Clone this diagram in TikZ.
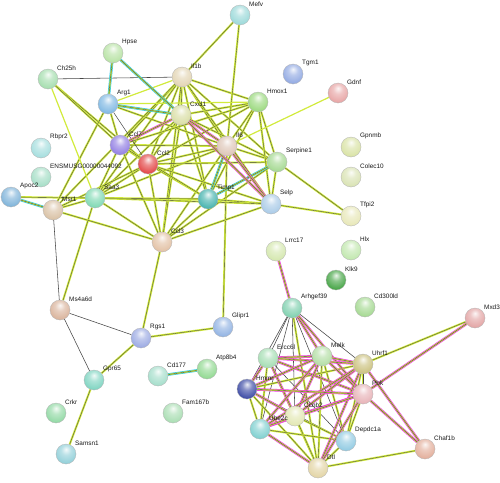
\documentclass[tikz,border=0pt]{standalone}
\usepackage{fontspec}
\setmainfont{Liberation Sans}
\pgfdeclarelayer{bg}
\pgfsetlayers{bg,main}
\definecolor{tmc}{RGB}{210,235,60}
\definecolor{ce}{RGB}{70,70,70}
\definecolor{dbc}{RGB}{40,200,240}
\definecolor{exc}{RGB}{240,50,240}
\definecolor{gb}{RGB}{128,128,128}
\pgfdeclareradialshading[gb]{sball}{\pgfqpoint{0bp}{12bp}}{color(0bp)=(gb!10!white); color(12bp)=(gb!60!white); color(30bp)=(gb!95!white); color(45bp)=(gb!85!black); color(62bp)=(gb!65!black)}
\definecolor{cMefv}{RGB}{150,215,215}
\definecolor{cHpse}{RGB}{180,225,160}
\definecolor{cChh}{RGB}{160,220,170}
\definecolor{cIlb}{RGB}{225,210,175}
\definecolor{cArg}{RGB}{120,180,225}
\definecolor{cCxcl}{RGB}{215,220,160}
\definecolor{cRbpr}{RGB}{160,220,220}
\definecolor{cCcls}{RGB}{140,120,225}
\definecolor{cIls}{RGB}{220,195,180}
\definecolor{cCclt}{RGB}{225,60,60}
\definecolor{cTgm}{RGB}{140,165,225}
\definecolor{cGdnf}{RGB}{230,160,160}
\definecolor{cHmox}{RGB}{150,215,120}
\definecolor{cGpnmb}{RGB}{215,225,160}
\definecolor{cSerp}{RGB}{160,215,140}
\definecolor{cColec}{RGB}{215,225,175}
\definecolor{cSelp}{RGB}{165,200,230}
\definecolor{cTfpi}{RGB}{230,230,180}
\definecolor{cLrrc}{RGB}{210,230,170}
\definecolor{cHlx}{RGB}{190,230,170}
\definecolor{cKlk}{RGB}{60,160,60}
\definecolor{cCdl}{RGB}{160,215,140}
\definecolor{cArh}{RGB}{120,205,170}
\definecolor{cMxd}{RGB}{225,160,160}
\definecolor{cEns}{RGB}{160,220,195}
\definecolor{cApoc}{RGB}{120,175,215}
\definecolor{cMsr}{RGB}{215,190,160}
\definecolor{cSaa}{RGB}{120,215,175}
\definecolor{cTimp}{RGB}{60,175,170}
\definecolor{cCclh}{RGB}{225,190,160}
\definecolor{cMs}{RGB}{215,175,150}
\definecolor{cGlipr}{RGB}{140,175,225}
\definecolor{cRgs}{RGB}{150,165,225}
\definecolor{cGpr}{RGB}{120,210,190}
\definecolor{cCdh}{RGB}{160,220,200}
\definecolor{cAtp}{RGB}{140,215,140}
\definecolor{cCrkr}{RGB}{140,215,160}
\definecolor{cFam}{RGB}{165,220,175}
\definecolor{cSams}{RGB}{140,205,215}
\definecolor{cErcc}{RGB}{160,220,175}
\definecolor{cMelk}{RGB}{175,220,160}
\definecolor{cUhrf}{RGB}{200,190,120}
\definecolor{cHmmr}{RGB}{50,65,160}
\definecolor{cPbk}{RGB}{230,175,180}
\definecolor{cCcnb}{RGB}{225,230,175}
\definecolor{cUbe}{RGB}{120,205,205}
\definecolor{cDepd}{RGB}{140,200,225}
\definecolor{cChaf}{RGB}{225,170,150}
\definecolor{cDtl}{RGB}{225,210,160}
\tikzset{
  gnode/.style={circle, minimum size=20pt, inner sep=0pt, draw=black!30, line width=0.3pt, shading=sball},
  glabel/.style={anchor=west, inner sep=0pt, font=\fontsize{6.4pt}{7pt}\selectfont, text=black!90},
  ey/.style={draw=ce, line width=0.35pt, preaction={draw=tmc, line width=2pt}},
  yo/.style={draw=tmc, line width=1.2pt},
  tk/.style={draw=ce, line width=0.55pt},
  ec/.style={draw=ce, line width=0.35pt, preaction={draw=dbc, line width=2.6pt}, preaction={draw=tmc, line width=1.4pt}},
  em/.style={draw=ce, line width=0.35pt, preaction={draw=exc, line width=2.6pt}, preaction={draw=tmc, line width=1.4pt}},
}
\newcommand\genenode[4]{%
  \colorlet{gb}{c#1}%
  \node[gnode] (#1) at (#2,#3) {};%
  \node[glabel] (#1l) at ([xshift=9pt,yshift=11pt]#1.center) {#4};%
}
\begin{document}
\begin{tikzpicture}[x=1pt,y=-1pt]
\useasboundingbox (0,0) rectangle (500,482);
\genenode{Mefv}{240}{15}{Mefv}
\genenode{Hpse}{113}{53}{Hpse}
\genenode{Chh}{48}{79}{Ch25h}
\genenode{Ilb}{182}{77}{Il1b}
\genenode{Arg}{108}{104}{Arg1}
\genenode{Cxcl}{181}{115}{Cxcl1}
\genenode{Rbpr}{41}{148}{Rbpr2}
\genenode{Ccls}{120}{145}{Ccl7}
\genenode{Ils}{227}{146}{Il6}
\genenode{Cclt}{148}{164}{Ccl2}
\genenode{Tgm}{293}{74}{Tgm1}
\genenode{Gdnf}{338}{93}{Gdnf}
\genenode{Hmox}{258}{102}{Hmox1}
\genenode{Gpnmb}{351}{147}{Gpnmb}
\genenode{Serp}{277}{162}{Serpine1}
\genenode{Colec}{351}{177}{Colec10}
\genenode{Selp}{271}{204}{Selp}
\genenode{Tfpi}{351}{216}{Tfpi2}
\genenode{Lrrc}{276}{251}{Lrrc17}
\genenode{Hlx}{351}{250}{Hlx}
\genenode{Klk}{336}{280}{Klk9}
\genenode{Cdl}{365}{307}{Cd300ld}
\genenode{Arh}{292}{308}{Arhgef39}
\genenode{Mxd}{475}{318}{Mxd3}
\genenode{Ens}{41}{177}{ENSMUSG00000044092}
\genenode{Apoc}{11}{197}{Apoc2}
\genenode{Msr}{53}{210}{Msr1}
\genenode{Saa}{95}{198}{Saa3}
\genenode{Timp}{208}{199}{Timp1}
\genenode{Cclh}{162}{242}{Ccl3}
\genenode{Ms}{60}{310}{Ms4a6d}
\genenode{Glipr}{223}{327}{Glipr1}
\genenode{Rgs}{141}{338}{Rgs1}
\genenode{Gpr}{94}{380}{Gpr65}
\genenode{Cdh}{158}{376}{Cd177}
\genenode{Atp}{207}{369}{Atp8b4}
\genenode{Crkr}{56}{413}{Crkr}
\genenode{Fam}{173}{413}{Fam167b}
\genenode{Sams}{66}{454}{Samsn1}
\genenode{Ercc}{268}{358}{Ercc6l}
\genenode{Melk}{322}{356}{Melk}
\genenode{Uhrf}{363}{364}{Uhrf1}
\genenode{Hmmr}{247}{389}{Hmmr}
\genenode{Pbk}{363}{394}{Pbk}
\genenode{Ccnb}{295}{416}{Ccnb2}
\genenode{Ube}{260}{429}{Ube2c}
\genenode{Depd}{346}{441}{Depdc1a}
\genenode{Chaf}{425}{449}{Chaf1b}
\genenode{Dtl}{318}{468}{Dtl}
\begin{pgfonlayer}{bg}
\fill[white] (0,0) rectangle (500,482);
\foreach \a/\b in {Ilb/Cxcl,Ilb/Ils,Ilb/Cclt,Ilb/Ccls,Ilb/Hmox,Ilb/Serp,Ilb/Timp,Ilb/Selp,Ilb/Saa,Ilb/Cclh,Ilb/Mefv,Ilb/Msr,
  Cxcl/Cclt,Cxcl/Hmox,Cxcl/Serp,Cxcl/Timp,Cxcl/Saa,Cxcl/Cclh,
  Ils/Cclt,Ils/Ccls,Ils/Hmox,Ils/Serp,Ils/Saa,Ils/Cclh,Ils/Mefv,Ils/Glipr,Ils/Arg,
  Cclt/Ccls,Cclt/Hmox,Cclt/Serp,Cclt/Timp,Cclt/Selp,Cclt/Saa,Cclt/Cclh,Cclt/Chh,Cclt/Msr,
  Ccls/Hmox,Ccls/Saa,Ccls/Cclh,Ccls/Timp,Ccls/Chh,Ccls/Arg,
  Hmox/Serp,Hmox/Selp,Hmox/Timp,Serp/Selp,Serp/Tfpi,Serp/Cclh,
  Selp/Timp,Selp/Cclh,Selp/Saa,Selp/Tfpi,Timp/Saa,Timp/Cclh,
  Saa/Cclh,Saa/Msr,Saa/Apoc,Saa/Ms,Msr/Cclh,Msr/Arg,
  Cclh/Rgs,Rgs/Glipr,Rgs/Gpr,Gpr/Sams}
  \draw[ey] (\a) -- (\b);
\foreach \a/\b in {Ilb/Chh,Msr/Ms,Rgs/Ms,Ms/Gpr,Arg/Cclt}
  \draw[tk] (\a) -- (\b);
\foreach \a/\b in {Ilb/Arg,Ils/Gdnf,Chh/Saa,Arg/Hmox}
  \draw[yo] (\a) -- (\b);
\foreach \a/\b in {Hpse/Arg,Hpse/Cxcl,Arg/Cxcl,Ils/Timp,Serp/Timp,Msr/Apoc,Cdh/Atp}
  \draw[ec] (\a) -- (\b);
\foreach \a/\b in {Cxcl/Ils,Cxcl/Ccls,Ils/Selp,Cxcl/Selp}
  \draw[em] (\a) -- (\b);
\foreach \a/\b in {Arh/Ercc,Arh/Uhrf,Arh/Ccnb,Arh/Hmmr,Arh/Ube,Arh/Depd,Ercc/Depd,Hmmr/Depd}
  \draw[tk] (\a) -- (\b);
\foreach \a/\b in {Arh/Dtl,Mxd/Uhrf,Chaf/Dtl,Ercc/Ube,Ercc/Dtl,Melk/Depd,Melk/Dtl,Uhrf/Hmmr,Uhrf/Depd,
  Hmmr/Ube,Hmmr/Dtl,Pbk/Depd,Ccnb/Depd,Ccnb/Dtl,Ube/Depd,Depd/Dtl}
  \draw[ey] (\a) -- (\b);
\foreach \a/\b in {Lrrc/Arh,Arh/Melk,Arh/Pbk,Mxd/Pbk,Chaf/Uhrf,Chaf/Pbk,
  Ercc/Melk,Ercc/Uhrf,Ercc/Hmmr,Ercc/Pbk,Ercc/Ccnb,Melk/Uhrf,Melk/Hmmr,Melk/Pbk,Melk/Ccnb,Melk/Ube,
  Uhrf/Pbk,Uhrf/Ccnb,Uhrf/Ube,Uhrf/Dtl,Hmmr/Pbk,Hmmr/Ccnb,Pbk/Ccnb,Pbk/Ube,Pbk/Dtl,Ccnb/Ube,Ube/Dtl}
  \draw[em] (\a) -- (\b);
\end{pgfonlayer}
\end{tikzpicture}
\end{document}
